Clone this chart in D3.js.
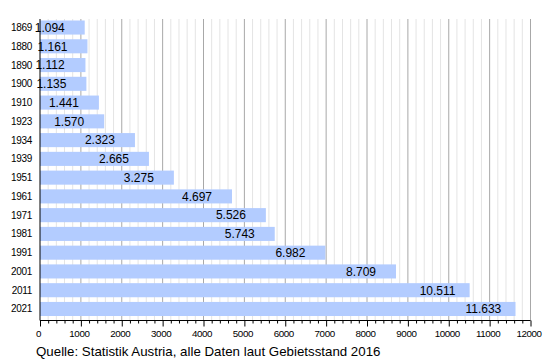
<!DOCTYPE html>
<html>
<head>
<meta charset="utf-8">
<script src="https://cdn.jsdelivr.net/npm/d3@7"></script>
<style>
  body { margin: 0; background: #fff; }
  svg { display: block; font-family: "Liberation Sans", Arial, sans-serif; }
</style>
</head>
<body>
<svg id="chart" width="550" height="360"></svg>
<script>
const years = ["1869","1880","1890","1900","1910","1923","1934","1939","1951","1961","1971","1981","1991","2001","2011","2021"];
const population = [1094,1161,1112,1135,1441,1570,2323,2665,3275,4697,5526,5743,6982,8709,10511,11633];
const valueLabels = ["1.094","1.161","1.112","1.135","1.441","1.570","2.323","2.665","3.275","4.697","5.526","5.743","6.982","8.709","10.511","11.633"];
const majorTicks = [0,1000,2000,3000,4000,5000,6000,7000,8000,9000,10000,11000,12000];
const sourceText = "Quelle: Statistik Austria, alle Daten laut Gebietsstand 2016";

const svg = d3.select("#chart");
const x = d3.scaleLinear().domain([0, 12000]).range([40, 530.5]);
const y = d3.scaleBand().domain(years).range([20.5, 316]).paddingInner(0.25).paddingOuter(0);
const plotTop = 19, plotBottom = 320.5;

const minorTicks = d3.range(0, 12001, 200).filter(v => v % 1000 !== 0);

// minor grid
svg.append("g").selectAll("line").data(minorTicks).join("line")
  .attr("x1", d => x(d)).attr("x2", d => x(d))
  .attr("y1", plotTop).attr("y2", plotBottom)
  .attr("stroke", "#e4e4e4").attr("stroke-width", 1);
// major grid
svg.append("g").selectAll("line").data(majorTicks.slice(1)).join("line")
  .attr("x1", d => x(d)).attr("x2", d => x(d))
  .attr("y1", plotTop).attr("y2", plotBottom)
  .attr("stroke", "#a8a8a8").attr("stroke-width", 1);

// bars
svg.append("g").selectAll("rect").data(years).join("rect")
  .attr("x", x(0)).attr("y", d => y(d))
  .attr("width", (d, i) => x(population[i]) - x(0))
  .attr("height", y.bandwidth())
  .attr("fill", "rgb(179,204,255)");

// bottom axis
const xAxis = d3.axisBottom(x).tickValues(majorTicks).tickSize(6).tickFormat(d3.format("d"));
const gx = svg.append("g").attr("transform", `translate(0,${plotBottom})`).call(xAxis);
gx.select(".domain").attr("stroke", "#000").attr("d", `M${x(0)},0H${x(12000)}`);
gx.selectAll(".tick line").attr("stroke", "#000");
gx.selectAll(".tick text").attr("font-size", 9.8).attr("letter-spacing", "-0.4px")
  .attr("font-family", "'Liberation Sans', Arial, sans-serif").attr("fill", "#000")
  .attr("dx", -2).attr("y", 10);
const xMinor = d3.axisBottom(x).tickValues(minorTicks).tickSize(3).tickFormat("");
const gm = svg.append("g").attr("transform", `translate(0,${plotBottom})`).call(xMinor);
gm.select(".domain").remove();
gm.selectAll(".tick line").attr("stroke", "#000");

// left axis line
svg.append("line").attr("x1", x(0)).attr("x2", x(0)).attr("y1", plotTop).attr("y2", plotBottom)
  .attr("stroke", "#000").attr("stroke-width", 1);

// year labels
svg.append("g").selectAll("text").data(years).join("text")
  .attr("x", 32).attr("y", d => y(d) + y.bandwidth() / 2)
  .attr("dy", "0.35em").attr("text-anchor", "end")
  .attr("font-size", 10).attr("letter-spacing", "-0.3px")
  .text(d => d);

// value labels
svg.append("g").selectAll("text").data(years).join("text")
  .attr("x", (d, i) => x(population[i]) - 50)
  .attr("y", d => y(d) + y.bandwidth() / 2)
  .attr("dy", "0.36em")
  .attr("font-size", 12)
  .text((d, i) => valueLabels[i]);

// source
svg.append("text").attr("x", 36).attr("y", 356).attr("font-size", 13.3).text(sourceText);
</script>
</body>
</html>
